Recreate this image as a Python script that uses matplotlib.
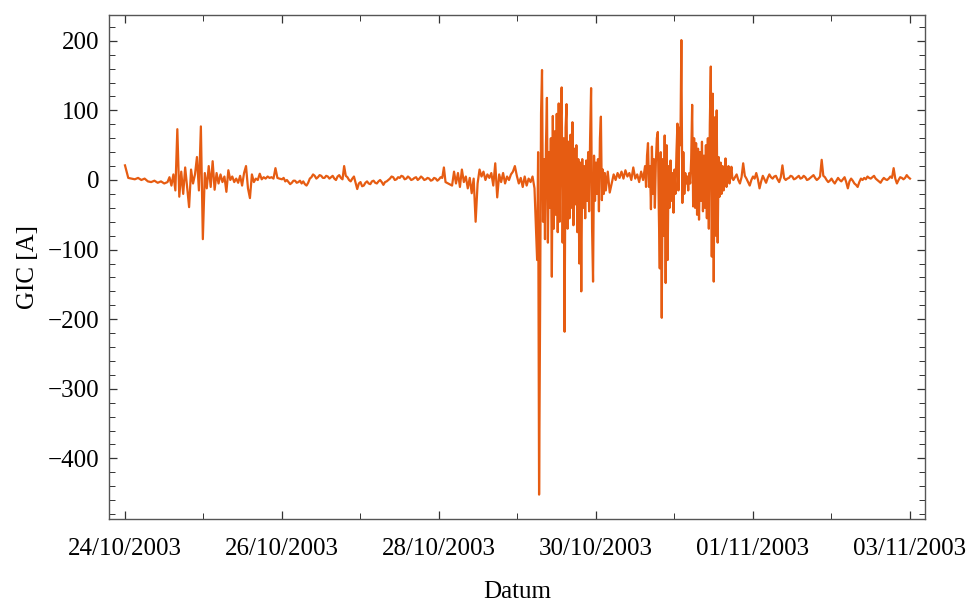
import numpy as np
import pandas as pd
import matplotlib
matplotlib.use("Agg")
import matplotlib.pyplot as plt
import matplotlib.dates as mdates
from matplotlib.ticker import MultipleLocator

plt.rcParams['font.family'] = ['Liberation Serif', 'DejaVu Serif']
plt.rcParams['font.size'] = 18

# GIC record in segments (start time, cadence, values in A)
q1_start, q1_step = "2003-10-24 00:00", "60min"
q1_vals = [21, 3, 2, 1, 3, 0, 2, -2, -3, -1, -4, -2, -5]

a1_start, a1_step = "2003-10-24 13:00", "36min"
a1_vals = [-3, 4, -8, 8, -15, 73, -24, 12, -20, 18, -10, -39, 15, -5, 8, 33,
           -15, 77, -85, 10, -12, 20, -10, 27, -14, 10, -5, 8, -3, 5, -17, 14,
           0, 5, -3, 2, -4, 6, -8, 10, 20, -12, -26, 8, -3, 2, 0, 9, 1, 4, 2,
           5, 3, 4, 2, 17, 3, 2]

q2_start, q2_step = "2003-10-26 00:00", "30min"
q2_vals = [1, 3, -2, 0, -3, -6, -4, -1, -1, -4, -3, -1, -5, -2, -6, -8, -4,
           2, 4, 8, 6, 2, 4, 7, 6, 3, 3, 6, 5, 2, 4, 6, 2, 0, 5, 7, 3, 1, 20,
           6, 4, 0, -2, 2, 5, -4, -13, -5, -3, -9, -8, -4, -2, -5, -6, -2, -1,
           -4, -5, -2, 0, -3, -7, -3, -2, 0, 2, 5, 4, 0, 1, 4, 3, 6, 5, 1, 2,
           5, 3, 0, 1, 3, 4, 0, 2, 5, 3, 0, 1, 3, 2, -1, 0, 3, 2, -1, 1, 4, 3,
           18, -3]

a2_start, a2_step = "2003-10-28 04:00", "36min"
a2_vals = [-8, 12, -5, 10, -10, 15, -3, 5, -12, 3, -19, 2, -60, -5, 15, 5,
           12, 0, 8, 3, 10, -8, 24, -25, 8, -3, 10, -5, 5, 0, 8, 12, 20, 6,
           -5, 3, -10, 5, -8, 2, -3, 5, -12]

s1_start, s1_step = "2003-10-29 06:00", "18min"
s1_vals = [-115, 40, -452, -200, 96, 158, -60, 30, -85, 50, 118, -90, 40,
           -40, 60, -139, 92, -70, 70, -50, 95, -75, 110, -60, 80, 133, -90,
           60, -218, 75, 109, -70, 55, -55, 65, -40, 83, -65, 45, -35, 50,
           -75, 30, -120, 25, -160, 30, -40, 20, -55, 28, -30, 40, -45, 60,
           132, -70, -146, 35, -30, 25, -20, 30, -45, 60, 91, -29, 15, -20,
           10, -15]

m_start, m_step = "2003-10-30 03:36", "36min"
m_vals = [12, -18, -5, 8, 0, 10, 3, 12, 2, 14, 5, 10, 0, 18, 2, 8, -3, 12, 0]

s2_start, s2_step = "2003-10-30 15:00", "18min"
s2_vals = [20, -10, 35, 53, -10, 20, -42, 48, -20, 30, -40, 25, 60, 69, -43,
           -127, 40, -198, 30, -80, 64, -148, 50, -115, 20, -40, 28, -30, 10,
           -47, 15, -20, 40, 81, -15, 75, 50, 201, -33, 40, -20, 10, -5, 5,
           -15, 10, -5, 30, 108, -38, 60, -40, 53, -50, 45, -57, 40, -30, 55,
           -45, 35, -40, 50, -55, 60, -70, 80, 163, -110, 124, -146, 90, -80,
           100, -90, 33, -24, 25, -20, 20, -15, 10, 31, -10, 8, 20, -5, 6,
           19, 2, 0]

q3_start, q3_step = "2003-10-31 19:00", "30min"
q3_vals = [8, 0, -5, 4, 24, 6, 2, -3, -8, 0, 5, 2, 10, 1, -12, -2, 6, 1, -4,
           3, 8, 4, 2, 5, 6, 1, -3, 4, 21, 3, 0, 2, 3, 6, 5, 1, 2, 4, 6, 2, 3,
           6, 4, 0, 1, 3, 5, 7, 3, 0, 2, 5, 29, 6, 4, 0, -3, -1, 2, -2, -5, -1,
           3, 0, -2, 1, 4, -3, -12, -2, 2, -1, -5, -7, -10, -3, 2, 0, 3, 1, 5,
           3, 2, 4, 6, 2, 0, -2, -4, 0, 3, 1, 0, 2, 5, 3, 17, 2, -5, 0, 4, 3,
           1, 3, 7, 4, 2]

segments = [(q1_start, q1_step, q1_vals), (a1_start, a1_step, a1_vals),
            (q2_start, q2_step, q2_vals), (a2_start, a2_step, a2_vals),
            (s1_start, s1_step, s1_vals), (m_start, m_step, m_vals),
            (s2_start, s2_step, s2_vals), (q3_start, q3_step, q3_vals)]

times = []
vals = []
for start, step, v in segments:
    times.append(pd.date_range(start, periods=len(v), freq=step))
    vals.extend(v)
t = times[0].append(times[1:])
gic = np.array(vals, dtype=float)

fig = plt.figure(figsize=(9.66, 6.06), dpi=100)
ax = fig.add_axes([0.1128, 0.1436, 0.8448, 0.8316])
ax.plot(t, gic, color="#E65C12", lw=1.6)

ax.set_ylim(-487, 237)
ax.set_xlim(pd.Timestamp("2003-10-24") - pd.Timedelta(hours=4.9),
            pd.Timestamp("2003-11-03") + pd.Timedelta(hours=4.6))
ax.xaxis.set_major_locator(mdates.DayLocator(bymonthday=[24, 26, 28, 30, 1, 3]))
ax.xaxis.set_minor_locator(mdates.DayLocator())
ax.xaxis.set_major_formatter(mdates.DateFormatter("%d/%m/%Y"))
ax.yaxis.set_major_locator(MultipleLocator(100))
ax.yaxis.set_minor_locator(MultipleLocator(20))

ax.tick_params(which="both", direction="in", top=True, right=True,
               color="#333333", labelcolor="black")
ax.tick_params(which="major", length=6, width=0.9)
ax.tick_params(which="minor", length=4, width=0.7)
ax.tick_params(axis="x", which="major", pad=14)
ax.tick_params(axis="y", which="major", pad=7)
for s in ax.spines.values():
    s.set_color("#555555")
    s.set_linewidth(1.0)

ax.set_xlabel("Datum", labelpad=15)
ax.set_ylabel("GIC [A]", labelpad=6)

fig.savefig("out.png", dpi=100)
